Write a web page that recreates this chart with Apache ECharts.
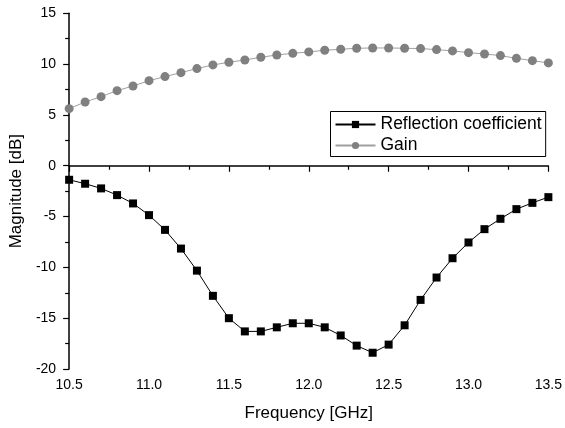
<!DOCTYPE html>
<html><head><meta charset="utf-8">
<script src="https://cdn.jsdelivr.net/npm/echarts@6/dist/echarts.min.js"></script>
<style>html,body{margin:0;padding:0;background:#fff}#c{width:565px;height:428px}</style>
</head><body><div id="c"></div>
<script>
const freq = [10.5,10.6,10.7,10.8,10.9,11.0,11.1,11.2,11.3,11.4,11.5,11.6,11.7,11.8,11.9,12.0,12.1,12.2,12.3,12.4,12.5,12.6,12.7,12.8,12.9,13.0,13.1,13.2,13.3,13.4,13.5];
const reflection = [-1.38,-1.77,-2.23,-2.89,-3.71,-4.86,-6.31,-8.15,-10.32,-12.8,-15.0,-16.3,-16.3,-15.9,-15.5,-15.5,-15.9,-16.7,-17.7,-18.4,-17.6,-15.7,-13.2,-11.0,-9.1,-7.55,-6.24,-5.22,-4.27,-3.65,-3.09];
const gain = [5.62,6.27,6.80,7.39,7.85,8.37,8.77,9.16,9.56,9.92,10.18,10.41,10.67,10.90,11.06,11.2,11.36,11.46,11.56,11.59,11.59,11.56,11.53,11.43,11.30,11.13,11.0,10.84,10.57,10.34,10.12];
const seriesNames = ['Reflection coefficient','Gain'];
const xTitle = 'Frequency [GHz]';
const yTitle = 'Magnitude [dB]';

const font = 'Arial, "Liberation Sans", sans-serif';
const chart = echarts.init(document.getElementById('c'), null, {renderer:'canvas'});
chart.setOption({
  animation:false,
  backgroundColor:'#fff',
  grid:{left:66.7, right:14.7, top:13.3, bottom:59, containLabel:false},
  legend:{
    left:330.5, top:111.5, orient:'vertical',
    data:seriesNames,
    itemWidth:40, itemHeight:9, itemGap:3,
    padding:[4,4,2,4],
    borderColor:'#000', borderWidth:1,
    textStyle:{fontFamily:font, fontSize:17.5, color:'#000', lineHeight:18}
  },
  xAxis:{
    type:'value', min:10.5, max:13.5, interval:0.5,
    name:xTitle, nameLocation:'middle', nameGap:36,
    nameTextStyle:{fontFamily:font, fontSize:17, color:'#000'},
    axisLine:{lineStyle:{color:'#000', width:1.5}},
    axisTick:{show:true, inside:false, length:6, lineStyle:{color:'#000', width:1.2}},
    minorTick:{show:true, splitNumber:2, length:4, lineStyle:{color:'#000', width:1.2}},
    splitLine:{show:false},
    axisLabel:{fontFamily:font, fontSize:14, color:'#000', margin:9, formatter:v=>v.toFixed(1)}
  },
  yAxis:{
    type:'value', min:-20, max:15, interval:5,
    name:yTitle, nameLocation:'middle', nameGap:42, nameRotate:90,
    nameTextStyle:{fontFamily:font, fontSize:17, color:'#000'},
    axisLine:{show:true, lineStyle:{color:'#000', width:1.5}},
    axisTick:{show:true, inside:false, length:6, lineStyle:{color:'#000', width:1.2}},
    minorTick:{show:true, splitNumber:2, length:4, lineStyle:{color:'#000', width:1.2}},
    splitLine:{show:false},
    axisLabel:{fontFamily:font, fontSize:14, color:'#000', margin:13}
  },
  series:[
    {name:seriesNames[0], type:'line', data:freq.map((f,i)=>[f,reflection[i]]),
     symbol:'rect', symbolSize:8, showAllSymbol:true,
     itemStyle:{color:'#000'}, lineStyle:{color:'#000', width:1}},
    {name:seriesNames[1], type:'line', data:freq.map((f,i)=>[f,gain[i]]),
     symbol:'circle', symbolSize:9, showAllSymbol:true,
     itemStyle:{color:'#808080'}, lineStyle:{color:'#a0a0a0', width:1}}
  ]
});
</script></body></html>
